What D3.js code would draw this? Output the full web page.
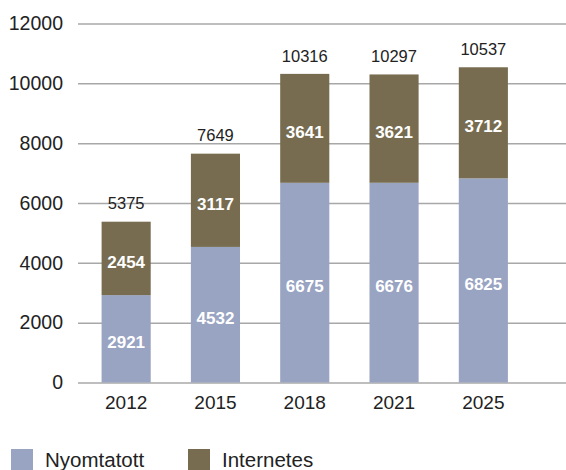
<!DOCTYPE html>
<html>
<head>
<meta charset="utf-8">
<script src="https://cdn.jsdelivr.net/npm/d3@7"></script>
<style>
  body { margin: 0; background: #fff; }
  svg { font-family: "Liberation Sans", Arial, Helvetica, sans-serif; }
</style>
</head>
<body>
<div id="chart"></div>
<script>
var years = ["2012", "2015", "2018", "2021", "2025"];
var printed = [2921, 4532, 6675, 6676, 6825];
var online = [2454, 3117, 3641, 3621, 3712];
var totals = [5375, 7649, 10316, 10297, 10537];
var yTicks = [0, 2000, 4000, 6000, 8000, 10000, 12000];
var seriesNames = ["Nyomtatott", "Internetes"];

var colors = ["#99a3c2", "#776c50"];

var W = 566, H = 470;

var svg = d3.select("#chart").append("svg")
    .attr("width", W)
    .attr("height", H);

var data = years.map(function(y, i) {
    return { year: y, Nyomtatott: printed[i], Internetes: online[i], total: totals[i] };
});

var stack = d3.stack().keys(seriesNames);
var series = stack(data);

var x = d3.scaleBand()
    .domain(years)
    .range([81.5, 528])
    .paddingInner(0.45)
    .paddingOuter(0.225);

var y = d3.scaleLinear()
    .domain([0, 12000])
    .range([382.5, 23.5]);

// gridlines + y labels
var yAxis = svg.append("g")
    .attr("transform", "translate(78,0)")
    .call(d3.axisLeft(y).tickValues(yTicks).tickFormat(d3.format("d"))
        .tickSize(-(W - 78)).tickPadding(15));
yAxis.select(".domain").remove();
yAxis.selectAll("line").attr("stroke", "#a8a8a8").attr("stroke-width", 1.5);
yAxis.selectAll("text")
    .attr("fill", "#222")
    .style("font-size", "19.5px");

// bars
svg.selectAll(".layer")
    .data(series)
    .enter().append("g")
    .attr("class", "layer")
    .attr("fill", function(d, i) { return colors[i]; })
    .selectAll("rect")
    .data(function(d) { return d; })
    .enter().append("rect")
    .attr("x", function(d) { return x(d.data.year); })
    .attr("width", x.bandwidth())
    .attr("y", function(d) { return y(d[1]); })
    .attr("height", function(d) { return y(d[0]) - y(d[1]); });

// values inside segments
series.forEach(function(s) {
    svg.append("g").selectAll("text")
        .data(s)
        .enter().append("text")
        .attr("x", function(d) { return x(d.data.year) + x.bandwidth() / 2; })
        .attr("y", function(d) { return (y(d[0]) + y(d[1])) / 2 + 3.5; })
        .attr("dy", "0.35em")
        .attr("text-anchor", "middle")
        .attr("fill", "#fff")
        .style("font-weight", "bold")
        .style("font-size", "17px")
        .text(function(d) { return d.data[s.key]; });
});

// totals above bars
svg.append("g").selectAll("text")
    .data(data)
    .enter().append("text")
    .attr("x", function(d) { return x(d.year) + x.bandwidth() / 2; })
    .attr("y", function(d) { return y(d.Nyomtatott + d.Internetes) - 18; })
    .attr("dy", "0.35em")
    .attr("text-anchor", "middle")
    .attr("fill", "#222")
    .style("font-size", "16.5px")
    .text(function(d) { return d.total; });

// x axis labels
var xAxis = svg.append("g")
    .attr("transform", "translate(0,382.5)")
    .call(d3.axisBottom(x).tickSize(0).tickPadding(13));
xAxis.select(".domain").remove();
xAxis.selectAll("text")
    .attr("fill", "#222")
    .style("font-size", "19px");

// legend
var legendX = [11, 188];
var legend = svg.append("g").selectAll("g")
    .data(seriesNames)
    .enter().append("g")
    .attr("transform", function(d, i) { return "translate(" + legendX[i] + ",449)"; });
legend.append("rect")
    .attr("width", 22)
    .attr("height", 22)
    .attr("fill", function(d, i) { return colors[i]; });
legend.append("text")
    .attr("x", 34)
    .attr("y", 18)
    .attr("fill", "#222")
    .style("font-size", "20.5px")
    .text(function(d) { return d; });
</script>
</body>
</html>
